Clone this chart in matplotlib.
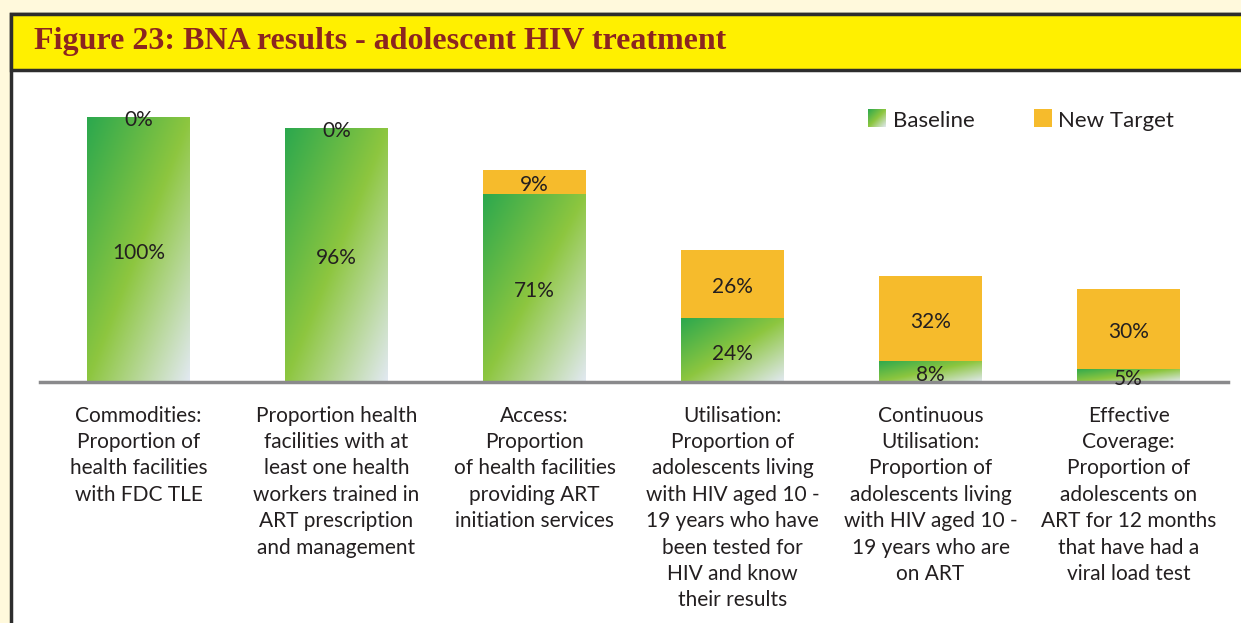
import numpy as np
import matplotlib.pyplot as plt
from matplotlib.colors import LinearSegmentedColormap
from matplotlib.patches import Rectangle

categories = [
    "Commodities:\nProportion of\nhealth facilities\nwith FDC TLE",
    "Proportion health\nfacilities with at\nleast one health\nworkers trained in\nART prescription\nand management",
    "Access:\nProportion\nof health facilities\nproviding ART\ninitiation services",
    "Utilisation:\nProportion of\nadolescents living\nwith HIV aged 10 -\n19 years who have\nbeen tested for\nHIV and know\ntheir results",
    "Continuous\nUtilisation:\nProportion of\nadolescents living\nwith HIV aged 10 -\n19 years who are\non ART",
    "Effective\nCoverage:\nProportion of\nadolescents on\nART for 12 months\nthat have had a\nviral load test",
]
baseline = [100, 96, 71, 24, 8, 5]
new_target = [0, 0, 9, 26, 32, 30]

W, H = 1241, 623
TEXT = '#231F20'
ORANGE = '#F6BB2C'
green_cmap = LinearSegmentedColormap.from_list(
    'bna', [(0, '#2BA84E'), (0.5, '#8DC63F'), (1, '#E2E9F2')])

plt.rcParams['font.family'] = ['Lato', 'DejaVu Sans']

fig = plt.figure(figsize=(W / 100, H / 100), dpi=100)
fig.patch.set_facecolor('#FFF9DC')


def box(x0, y0, x1, y1, **kw):
    # pixel box (from top-left) -> figure rectangle
    return Rectangle((x0 / W, 1 - y1 / H), (x1 - x0) / W, (y1 - y0) / H,
                     transform=fig.transFigure, figure=fig, **kw)


fig.patches.append(box(11, 14, 1270, 660, facecolor='white',
                       edgecolor='#2D2D2D', lw=2.5, zorder=-10))
fig.patches.append(box(11, 14, 1270, 70, facecolor='#FFF000',
                       edgecolor='#2D2D2D', lw=2.5, zorder=-9))
fig.text(34 / W, 1 - 41 / H, 'Figure 23: BNA results - adolescent HIV treatment',
         family='Liberation Serif', weight='bold', fontsize=23,
         color='#8B2520', ha='left', va='center')

# gradient image used for the baseline bars
u = np.linspace(0, 1, 200)
grad = (u[None, :] + u[:, None]) / 2

ax = fig.add_axes([39.5 / W, 1 - 382 / H, 1188 / W, 265 / H])
ax.set_facecolor('none')
x = np.arange(len(categories))

bars = ax.bar(x, baseline, width=0.52, color='none', edgecolor='none')
for b in bars:
    x0, y0 = b.get_x(), b.get_y()
    im = ax.imshow(grad, cmap=green_cmap, vmin=0, vmax=1, aspect='auto',
                   origin='upper', interpolation='bilinear',
                   extent=(x0, x0 + b.get_width(), y0, y0 + b.get_height()))
    im.set_clip_path(b)
ax.bar(x, new_target, bottom=baseline, width=0.52, color=ORANGE)

for i in x:
    ax.annotate(f'{baseline[i]}%', (i, baseline[i] / 2), xytext=(0, -2.5),
                textcoords='offset points', ha='center', va='center',
                fontsize=15, color=TEXT, annotation_clip=False)
    ax.annotate(f'{new_target[i]}%', (i, baseline[i] + new_target[i] / 2),
                xytext=(0, -2.5), textcoords='offset points', ha='center',
                va='center', fontsize=15, color=TEXT, annotation_clip=False)

ax.set_xlim(-0.5, 5.5)
ax.set_ylim(0, 100)
ax.set_xticks(x, categories)
ax.tick_params(axis='x', length=0, pad=17, labelsize=15, labelcolor=TEXT)
for t in ax.get_xticklabels():
    t.set_linespacing(1.4)
ax.set_yticks([])
for s in ['top', 'left', 'right']:
    ax.spines[s].set_visible(False)
ax.spines['bottom'].set_color('#8A8A8C')
ax.spines['bottom'].set_linewidth(2.5)

# legend
lax = fig.add_axes([868 / W, 1 - 127 / H, 18 / W, 18 / H])
lax.imshow(grad, cmap=green_cmap, vmin=0, vmax=1, aspect='auto')
lax.axis('off')
fig.text(893 / W, 1 - 121 / H, 'Baseline', fontsize=16, color=TEXT,
         ha='left', va='center')
fig.patches.append(box(1034, 109, 1052, 127, facecolor=ORANGE))
fig.text(1058 / W, 1 - 121 / H, 'New Target', fontsize=16, color=TEXT,
         ha='left', va='center')

fig.savefig('out.png', dpi=100, facecolor=fig.get_facecolor())
